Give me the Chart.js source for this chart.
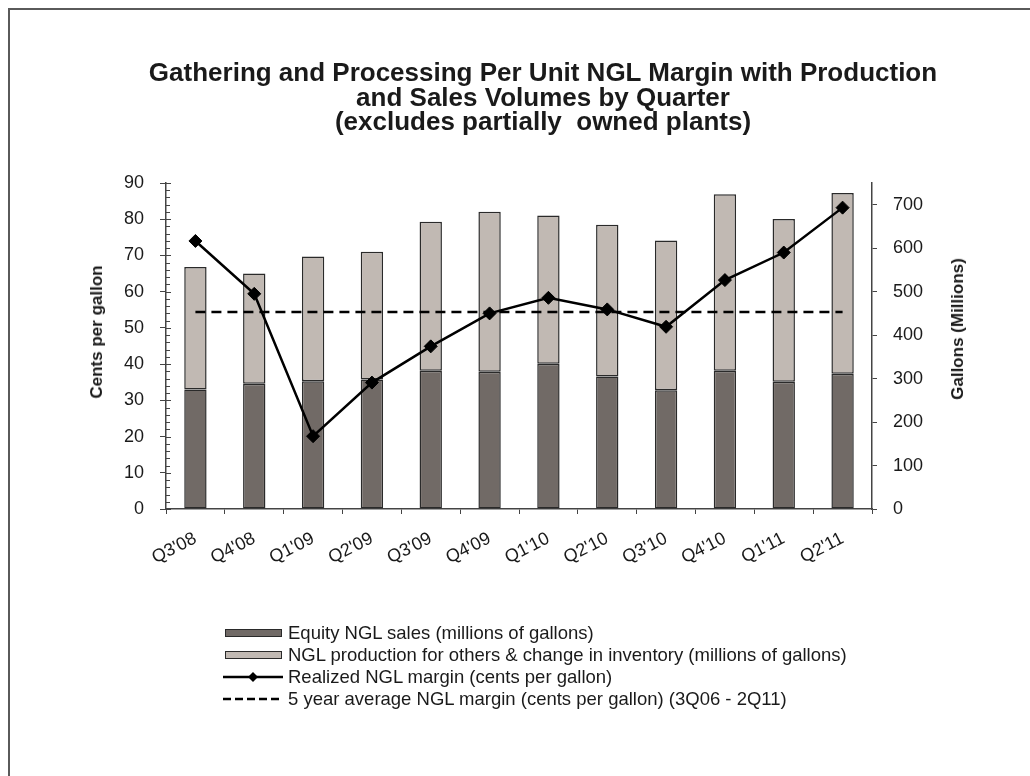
<!DOCTYPE html>
<html>
<head>
<meta charset="utf-8">
<title>Gathering and Processing Per Unit NGL Margin</title>
<script src="https://cdn.jsdelivr.net/npm/chart.js@4.4.0/dist/chart.umd.min.js"></script>
<style>
    html, body { margin: 0; padding: 0; background: #fff; }
    body {
        width: 1030px; height: 776px; position: relative; overflow: hidden;
        font-family: "Liberation Sans", Arial, sans-serif; color: #1a1a1a;
    }
    #frame {
        position: absolute; left: 8px; top: 8px; width: 1040px; height: 790px;
        border-left: 2px solid #5a5a5a; border-top: 2px solid #5a5a5a;
    }
    #chart { position: absolute; left: 0; top: 0; }
    .title {
        position: absolute; left: 143px; width: 800px; top: 60px;
        text-align: center; font-weight: bold; font-size: 26px; line-height: 24.5px;
    }
    .axis-title {
        position: absolute; white-space: nowrap; font-weight: bold; font-size: 17px;
        transform: translate(-50%, -50%) rotate(-90deg);
    }
    .legend { position: absolute; left: 223px; top: 622px; font-size: 18.5px; }
    .legend-row { display: flex; align-items: center; height: 22px; white-space: nowrap; }
    .swatch { width: 55px; height: 6px; border: 1.5px solid #2a2a2a; margin: 0 6px 0 2px; }
    .legend svg { margin-right: 5px; }
</style>
</head>
<body>
<div id="frame"></div>
<canvas id="chart" width="1030" height="776"></canvas>

<div class="title">Gathering and Processing Per Unit NGL Margin with Production<br>and Sales Volumes by Quarter<br>(excludes partially&nbsp; owned plants)</div>
<div class="axis-title" style="left:97px; top:332px;">Cents per gallon</div>
<div class="axis-title" style="left:958px; top:329px;">Gallons (Millions)</div>

<div class="legend">
    <div class="legend-row"><div class="swatch" style="background:#716a66"></div>Equity NGL sales (millions of gallons)</div>
    <div class="legend-row"><div class="swatch" style="background:#c1b9b3"></div>NGL production for others &amp; change in inventory (millions of gallons)</div>
    <div class="legend-row">
        <svg width="60" height="14"><line x1="0" y1="7" x2="60" y2="7" stroke="#000" stroke-width="2.5"/><path d="M30 2 L35 7 L30 12 L25 7 Z" fill="#000"/></svg>Realized NGL margin (cents per gallon)
    </div>
    <div class="legend-row">
        <svg width="60" height="14"><line x1="0" y1="7" x2="60" y2="7" stroke="#000" stroke-width="2.5" stroke-dasharray="8,4"/></svg>5 year average NGL margin (cents per gallon) (3Q06 - 2Q11)
    </div>
</div>

<script>
const quarters = ["Q3'08", "Q4'08", "Q1'09", "Q2'09", "Q3'09", "Q4'09", "Q1'10", "Q2'10", "Q3'10", "Q4'10", "Q1'11", "Q2'11"];

// millions of gallons (right axis)
const equitySales = [275, 288, 294, 298, 318, 316, 334, 305, 273, 318, 293, 311];
const othersAndInventory = [282, 254, 287, 294, 343, 368, 341, 349, 345, 406, 374, 416];

// cents per gallon (left axis)
const realizedMargin = [74.0, 59.4, 20.1, 34.9, 44.9, 54.0, 58.3, 55.1, 50.3, 63.2, 70.8, 83.2];
const fiveYearAverage = [54.4, 54.4, 54.4, 54.4, 54.4, 54.4, 54.4, 54.4, 54.4, 54.4, 54.4, 54.4];

const centsTicks = [0, 10, 20, 30, 40, 50, 60, 70, 80, 90];
const gallonTicks = [0, 100, 200, 300, 400, 500, 600, 700];

const AXIS_COLOR = "#444";
const TEXT_COLOR = "#1a1a1a";

// small inside ticks on the cents axis, plus the inner half of the major ones
const minorTicks = {
    id: "minorTicks",
    afterDraw(chart) {
        const ctx = chart.ctx;
        const y = chart.scales.y;
        const x0 = chart.chartArea.left;
        ctx.save();
        ctx.strokeStyle = AXIS_COLOR;
        ctx.lineWidth = 1;
        for (let v = y.min; v <= y.max; v += 2) {
            const py = Math.round(y.getPixelForValue(v)) + 0.5;
            ctx.beginPath();
            ctx.moveTo(x0, py);
            ctx.lineTo(x0 + (v % 10 === 0 ? 5 : 4), py);
            ctx.stroke();
        }
        ctx.restore();
    }
};

function renderChart() {
    Chart.defaults.font.family = "'Liberation Sans', Arial, sans-serif";
    Chart.defaults.color = TEXT_COLOR;

    new Chart(document.getElementById("chart"), {
        type: "bar",
        data: {
            labels: quarters,
            datasets: [
                {
                    type: "line", label: "Realized NGL margin (cents per gallon)",
                    data: realizedMargin, yAxisID: "y", order: 0,
                    borderColor: "#000", borderWidth: 2.5,
                    pointStyle: "rectRot", pointRadius: 6.5,
                    pointBackgroundColor: "#000", pointBorderColor: "#000", pointBorderWidth: 1
                },
                {
                    type: "line", label: "5 year average NGL margin (cents per gallon) (3Q06 - 2Q11)",
                    data: fiveYearAverage, yAxisID: "y", order: 1,
                    borderColor: "#000", borderWidth: 2.5, borderDash: [10, 6], pointRadius: 0
                },
                {
                    label: "Equity NGL sales (millions of gallons)",
                    data: equitySales, yAxisID: "y1", order: 2,
                    backgroundColor: "#716a66", borderColor: "#2a2a2a", borderWidth: 1.5, borderSkipped: false
                },
                {
                    label: "NGL production for others & change in inventory (millions of gallons)",
                    data: othersAndInventory, yAxisID: "y1", order: 2,
                    backgroundColor: "#c1b9b3", borderColor: "#2a2a2a", borderWidth: 1.5, borderSkipped: false
                }
            ]
        },
        options: {
            responsive: false,
            animation: false,
            layout: { padding: { top: 183, left: 108, right: 58, bottom: 197 } },
            categoryPercentage: 0.38,
            barPercentage: 1,
            plugins: { legend: { display: false }, tooltip: { enabled: false } },
            scales: {
                x: {
                    stacked: true,
                    grid: { display: true, drawOnChartArea: false, offset: true, tickLength: 5, color: AXIS_COLOR },
                    border: { display: true, color: AXIS_COLOR, width: 1.5 },
                    ticks: { minRotation: 27, maxRotation: 27, padding: 14, font: { size: 18 }, color: TEXT_COLOR },
                    afterFit: s => { s.height = 70; }
                },
                y: {
                    position: "left", min: 0, max: 90,
                    grid: { drawOnChartArea: false, tickLength: 6, color: AXIS_COLOR },
                    border: { display: true, color: AXIS_COLOR, width: 1.5 },
                    ticks: { stepSize: 10, padding: 16, font: { size: 18 }, color: TEXT_COLOR },
                    afterBuildTicks: s => { s.ticks = centsTicks.map(v => ({ value: v })); },
                    afterFit: s => { s.width = 58; }
                },
                y1: {
                    position: "right", min: 0, max: 750, stacked: true,
                    grid: { drawOnChartArea: false, tickLength: 5, color: AXIS_COLOR },
                    border: { display: true, color: AXIS_COLOR, width: 1.5 },
                    ticks: { stepSize: 100, padding: 16, font: { size: 18 }, color: TEXT_COLOR },
                    afterBuildTicks: s => { s.ticks = gallonTicks.map(v => ({ value: v })); },
                    afterFit: s => { s.width = 100; }
                }
            }
        },
        plugins: [minorTicks]
    });
}

document.addEventListener("DOMContentLoaded", renderChart);
</script>
</body>
</html>
